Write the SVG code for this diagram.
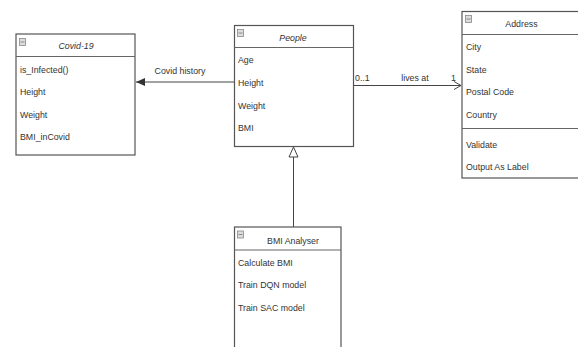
<svg xmlns="http://www.w3.org/2000/svg" width="578" height="347" viewBox="0 0 578 347">
<style>
.box{fill:#fff;stroke:#555;stroke-width:1.2}
.div{stroke:#666;stroke-width:1.2}
.t{font-family:"Liberation Sans",Arial,sans-serif;font-size:8.8px;fill:#333}
.h{font-family:"Liberation Sans",Arial,sans-serif;font-size:8.8px;fill:#333;text-anchor:middle}
.i{font-style:italic}
.ic{fill:#ddd;stroke:#888;stroke-width:0.8}
.icl{stroke:#777;stroke-width:0.8}
.edge{stroke:#444;stroke-width:1;fill:none}
</style>
<defs>
<marker id="filled" markerWidth="10" markerHeight="8" refX="9" refY="4" orient="auto" markerUnits="userSpaceOnUse">
<path d="M0,0 L9,4 L0,8 Z" fill="#333"/>
</marker>
<marker id="open" markerWidth="10" markerHeight="10" refX="8" refY="5" orient="auto" markerUnits="userSpaceOnUse">
<path d="M1,1 L8,5 L1,9" fill="none" stroke="#444" stroke-width="1"/>
</marker>
<marker id="tri" markerWidth="12" markerHeight="12" refX="6" refY="1" orient="auto-start-reverse" markerUnits="userSpaceOnUse">
<path d="M6,1 L10.5,10 L1.5,10 Z" fill="#fff" stroke="#444" stroke-width="1"/>
</marker>
</defs>
<rect width="578" height="347" fill="#fff"/>
<g id="connectors">
<path class="edge" d="M234,82 L136,82" marker-end="url(#filled)"/>
<text class="h" x="180" y="74">Covid history</text>
<path class="edge" d="M353,85.5 L461,85.5" marker-end="url(#open)"/>
<text class="t" x="355" y="81">0..1</text>
<text class="h" x="415" y="81">lives at</text>
<text class="t" x="451" y="81">1</text>
<path class="edge" d="M293.5,227 L293.5,157"/>
<path d="M293.5,147 L298,157 L289,157 Z" fill="#fff" stroke="#444" stroke-width="1"/>
</g>
<g id="covid19">
<rect class="box" x="16" y="34" width="119" height="121"/>
<line class="div" x1="16" y1="56.5" x2="135" y2="56.5"/>
<rect class="ic" x="19.5" y="38.5" width="6" height="7"/>
<line class="icl" x1="20.5" y1="42" x2="24.5" y2="42"/>
<text class="h i" x="76" y="49">Covid-19</text>
<text class="t" x="20" y="73">is_Infected()</text>
<text class="t" x="20" y="95">Height</text>
<text class="t" x="20" y="117.5">Weight</text>
<text class="t" x="20" y="140">BMI_inCovid</text>
</g>
<g id="people">
<rect class="box" x="234.5" y="25.5" width="119" height="121"/>
<line class="div" x1="234.5" y1="47.5" x2="353.5" y2="47.5"/>
<rect class="ic" x="237.5" y="29.5" width="6" height="7"/>
<line class="icl" x1="238.5" y1="33" x2="242.5" y2="33"/>
<text class="h i" x="293" y="41">People</text>
<text class="t" x="238" y="63">Age</text>
<text class="t" x="238" y="86">Height</text>
<text class="t" x="238" y="109">Weight</text>
<text class="t" x="238" y="131">BMI</text>
</g>
<g id="address">
<rect class="box" x="462" y="11.5" width="125" height="166.5"/>
<line class="div" x1="462" y1="34.5" x2="587" y2="34.5"/>
<line class="div" x1="462" y1="128.5" x2="587" y2="128.5"/>
<rect class="ic" x="465.5" y="15.5" width="6" height="7"/>
<line class="icl" x1="466.5" y1="19" x2="470.5" y2="19"/>
<text class="h" x="521.5" y="26.5">Address</text>
<text class="t" x="466" y="49.5">City</text>
<text class="t" x="466" y="72.5">State</text>
<text class="t" x="466" y="95">Postal Code</text>
<text class="t" x="466" y="118">Country</text>
<text class="t" x="466" y="147.5">Validate</text>
<text class="t" x="466" y="170">Output As Label</text>
</g>
<g id="bmi-analyser">
<rect class="box" x="234.5" y="227" width="106.5" height="130"/>
<line class="div" x1="234.5" y1="250" x2="341" y2="250"/>
<rect class="ic" x="237.5" y="231" width="6" height="7"/>
<line class="icl" x1="238.5" y1="234.5" x2="242.5" y2="234.5"/>
<text class="h" x="293" y="243.5">BMI Analyser</text>
<text class="t" x="238" y="265.5">Calculate BMI</text>
<text class="t" x="238" y="288">Train DQN model</text>
<text class="t" x="238" y="311">Train SAC model</text>
</g>
</svg>
